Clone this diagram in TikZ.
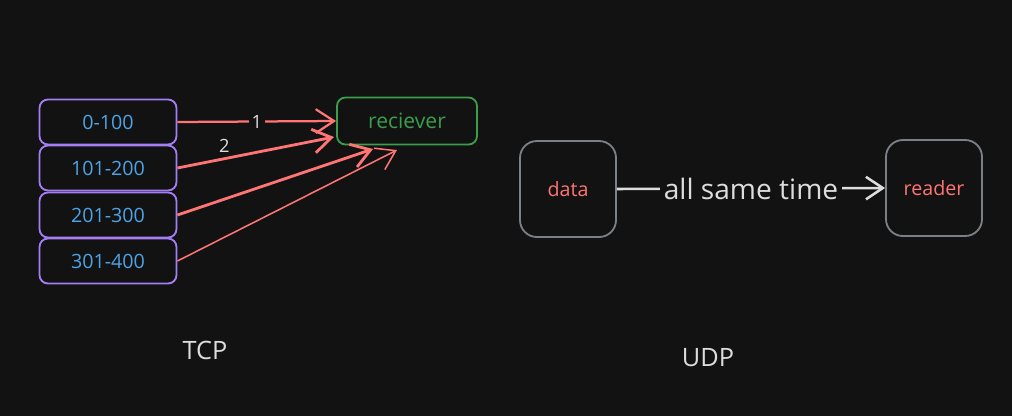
\documentclass[tikz,border=0pt]{standalone}
\usepackage{fontspec}
\setmainfont{Open Sans}
\usetikzlibrary{arrows.meta}
\definecolor{bg}{HTML}{121212}
\definecolor{violet}{HTML}{A57EF5}
\definecolor{skyblue}{HTML}{4DA3E6}
\definecolor{salmon}{HTML}{FF7474}
\definecolor{leaf}{HTML}{3A9E4C}
\definecolor{slate}{HTML}{7B8086}
\definecolor{chalk}{HTML}{DDDDDD}
\tikzset{
  seg/.style={draw=violet, line width=1.3pt, rounded corners=6pt, fill=bg,
    minimum width=137*0.025cm, minimum height=45*0.025cm,
    text=skyblue, font=\fontsize{14}{16}\selectfont},
  host/.style={draw=slate, line width=1.3pt, rounded corners=12pt,
    minimum width=96*0.025cm, minimum height=96*0.025cm,
    text=salmon, font=\fontsize{14}{16}\selectfont},
  pkt/.style={draw=salmon, line width=1.6pt, -{Straight Barb[length=13pt,width=17pt]}},
}
\begin{document}
\begin{tikzpicture}[x=0.025cm, y=-0.025cm]
      \useasboundingbox[fill=bg] (0,0) rectangle (1012,416);
      \draw
        (108,122) node[seg] (s1){0-100}
        (108,168) node[seg] (s2){101-200}
        (108,215) node[seg] (s3){201-300}
        (108,261) node[seg] (s4){301-400}
        (407,121) node[seg, draw=leaf, text=leaf, minimum width=140*0.025cm,
          minimum height=47*0.025cm, font=\fontsize{15}{17}\selectfont] (recv){reciever}
        (568,189) node[host] (data){data}
        (934,188) node[host] (reader){reader};
      \node[text=chalk, font=\fontsize{18}{20}\selectfont] (tcp) at (205,350) {TCP};
      \node[text=chalk, font=\fontsize{18}{20}\selectfont] (udp) at (708,358) {UDP};
      \coordinate (r2) at (334,137);
      \coordinate (r3) at (373,149);
      \coordinate (r4) at (397,150);
      \begin{scope}[pkt]
        \draw (s1.east) to node[fill=bg, text=chalk, inner sep=2pt,
          font=\fontsize{13}{15}\selectfont]{1} (recv.west);
        \draw[line width=2pt] (s2.east) to node[above, pos=0.3, text=chalk,
          font=\fontsize{13}{15}\selectfont]{2} (r2);
        \draw[line width=2pt] (s3.east) to (r3);
        \draw[line width=1.1pt] (s4.east) to (r4);
      \end{scope}
      \draw[draw=chalk, line width=1.8pt, -{Straight Barb[length=12pt,width=16pt]}]
        (data.east) to node[fill=bg, text=chalk, inner sep=3pt,
          font=\fontsize{20}{22}\selectfont]{all same time} (reader.west);
    \end{tikzpicture}
\end{document}
